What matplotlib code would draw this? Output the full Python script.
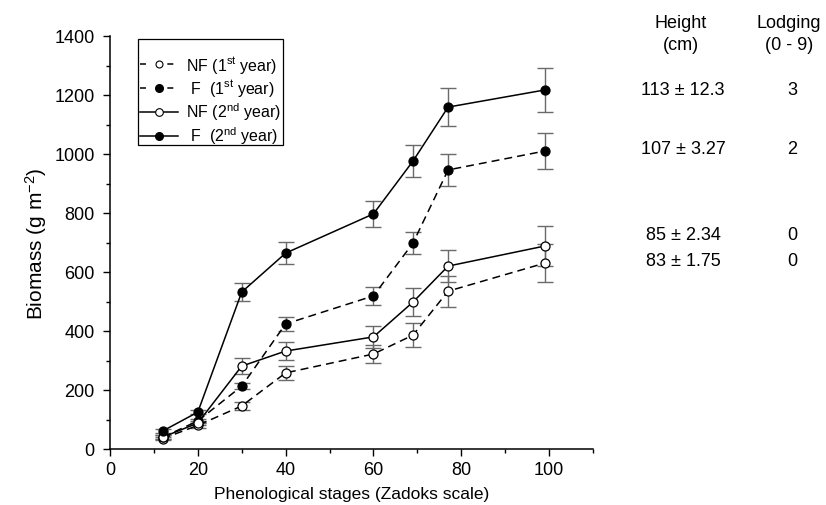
import matplotlib
matplotlib.use("Agg")
import matplotlib.pyplot as plt
from matplotlib.lines import Line2D
from matplotlib.patches import Rectangle

plt.rcParams['font.family'] = ['Liberation Sans', 'DejaVu Sans']
plt.rcParams['mathtext.default'] = 'regular'

# Data
stages = [12, 20, 30, 40, 60, 69, 77, 99]

nf1 = [35, 80, 146, 258, 322, 386, 535, 630]
nf1_err = [6, 8, 15, 24, 30, 40, 52, 64]

f1 = [40, 95, 213, 424, 519, 698, 946, 1010]
f1_err = [6, 8, 10, 24, 30, 37, 54, 61]

nf2 = [40, 88, 281, 332, 380, 498, 620, 688]
nf2_err = [6, 8, 26, 30, 37, 47, 54, 68]

f2 = [61, 125, 532, 664, 797, 976, 1159, 1217]
f2_err = [6, 8, 30, 37, 44, 54, 64, 75]

labels = ['NF (1$^{st}$ year)', ' F  (1$^{st}$ year)',
          'NF (2$^{nd}$ year)', ' F  (2$^{nd}$ year)']

height_txt = ['113 ± 12.3', '107 ± 3.27', '85 ± 2.34', '83 ± 1.75']
lodging_txt = ['3', '2', '0', '0']
row_y = [91, 149, 236, 262]  # pixel rows of the side table

W, H = 826, 506
fig = plt.figure(figsize=(W/100, H/100), dpi=100)
ax = fig.add_axes([110/W, 1-450/H, 483/W, 413/H])

LW = 1.1
DASH = (0, (5.2, 3.3))
series = [
    (nf1, nf1_err, 'white', DASH),
    (f1, f1_err, 'black', DASH),
    (nf2, nf2_err, 'white', '-'),
    (f2, f2_err, 'black', '-'),
]
for vals, errs, fc, ls in series:
    ax.errorbar(stages, vals, yerr=errs, fmt='none', ecolor='#6a6a6a',
                elinewidth=1.0, capsize=5.5, capthick=1.0, zorder=2)
    ax.plot(stages, vals, linestyle=ls, color='black', linewidth=LW,
            marker='o', markersize=6.5, markerfacecolor=fc,
            markeredgecolor='black', markeredgewidth=0.9, zorder=3)

ax.set_xlim(0, 110)
ax.set_ylim(0, 1400)
ax.set_xticks(range(0, 101, 20))
ax.set_xticks(range(10, 111, 20), minor=True)
ax.set_yticks(range(0, 1401, 200))
ax.set_yticks(range(100, 1400, 200), minor=True)
ax.tick_params(axis='both', which='major', direction='out', length=5,
               width=1, labelsize=13, colors='black')
ax.tick_params(axis='y', which='major', pad=6)
ax.tick_params(axis='both', which='minor', direction='out', length=3, width=1)
for s in ['top', 'right']:
    ax.spines[s].set_visible(False)
for s in ['left', 'bottom']:
    ax.spines[s].set_linewidth(1.1)

ax.set_xlabel('Phenological stages (Zadoks scale)', fontsize=12.5, labelpad=6)
ax.set_ylabel('Biomass (g m$^{-2}$)', fontsize=15, labelpad=4)

# legend handles (dashes spaced so the marker sits between two short dashes)
LEG_DASH = (0, (3.9, 14.0))
handles = [
    Line2D([], [], color='black', lw=LW, linestyle=LEG_DASH, marker='o',
           markersize=5, markerfacecolor='white', markeredgecolor='black',
           markeredgewidth=0.8),
    Line2D([], [], color='black', lw=LW, linestyle=LEG_DASH, marker='o',
           markersize=5.5, markerfacecolor='black', markeredgecolor='black'),
    Line2D([], [], color='black', lw=LW, linestyle='-', marker='o',
           markersize=5.5, markerfacecolor='white', markeredgecolor='black',
           markeredgewidth=0.8),
    Line2D([], [], color='black', lw=LW, linestyle='-', marker='o',
           markersize=5.5, markerfacecolor='black', markeredgecolor='black'),
]
leg = fig.legend(handles=handles, labels=labels, loc='upper left',
                 bbox_to_anchor=(140/W, 1-55/H), borderaxespad=0,
                 fontsize=11.5, frameon=False, handlelength=2.4,
                 handletextpad=0.5, labelspacing=0.14, borderpad=0)
fig.add_artist(Rectangle((138/W, 1-146/H), 145/W, 106/H,
                         transform=fig.transFigure, fill=False,
                         edgecolor='black', linewidth=0.9))

# side table
fig.text(681/W, 1-23/H, 'Height', ha='center', va='center', fontsize=13)
fig.text(681/W, 1-46/H, '(cm)', ha='center', va='center', fontsize=13)
fig.text(789/W, 1-23/H, 'Lodging', ha='center', va='center', fontsize=13)
fig.text(789/W, 1-46/H, '(0 - 9)', ha='center', va='center', fontsize=13)
for ht, lg, yy in zip(height_txt, lodging_txt, row_y):
    fig.text(683/W, 1-yy/H, ht, ha='center', va='center', fontsize=13)
    fig.text(792/W, 1-yy/H, lg, ha='center', va='center', fontsize=13)

fig.savefig('out.png', dpi=100)
